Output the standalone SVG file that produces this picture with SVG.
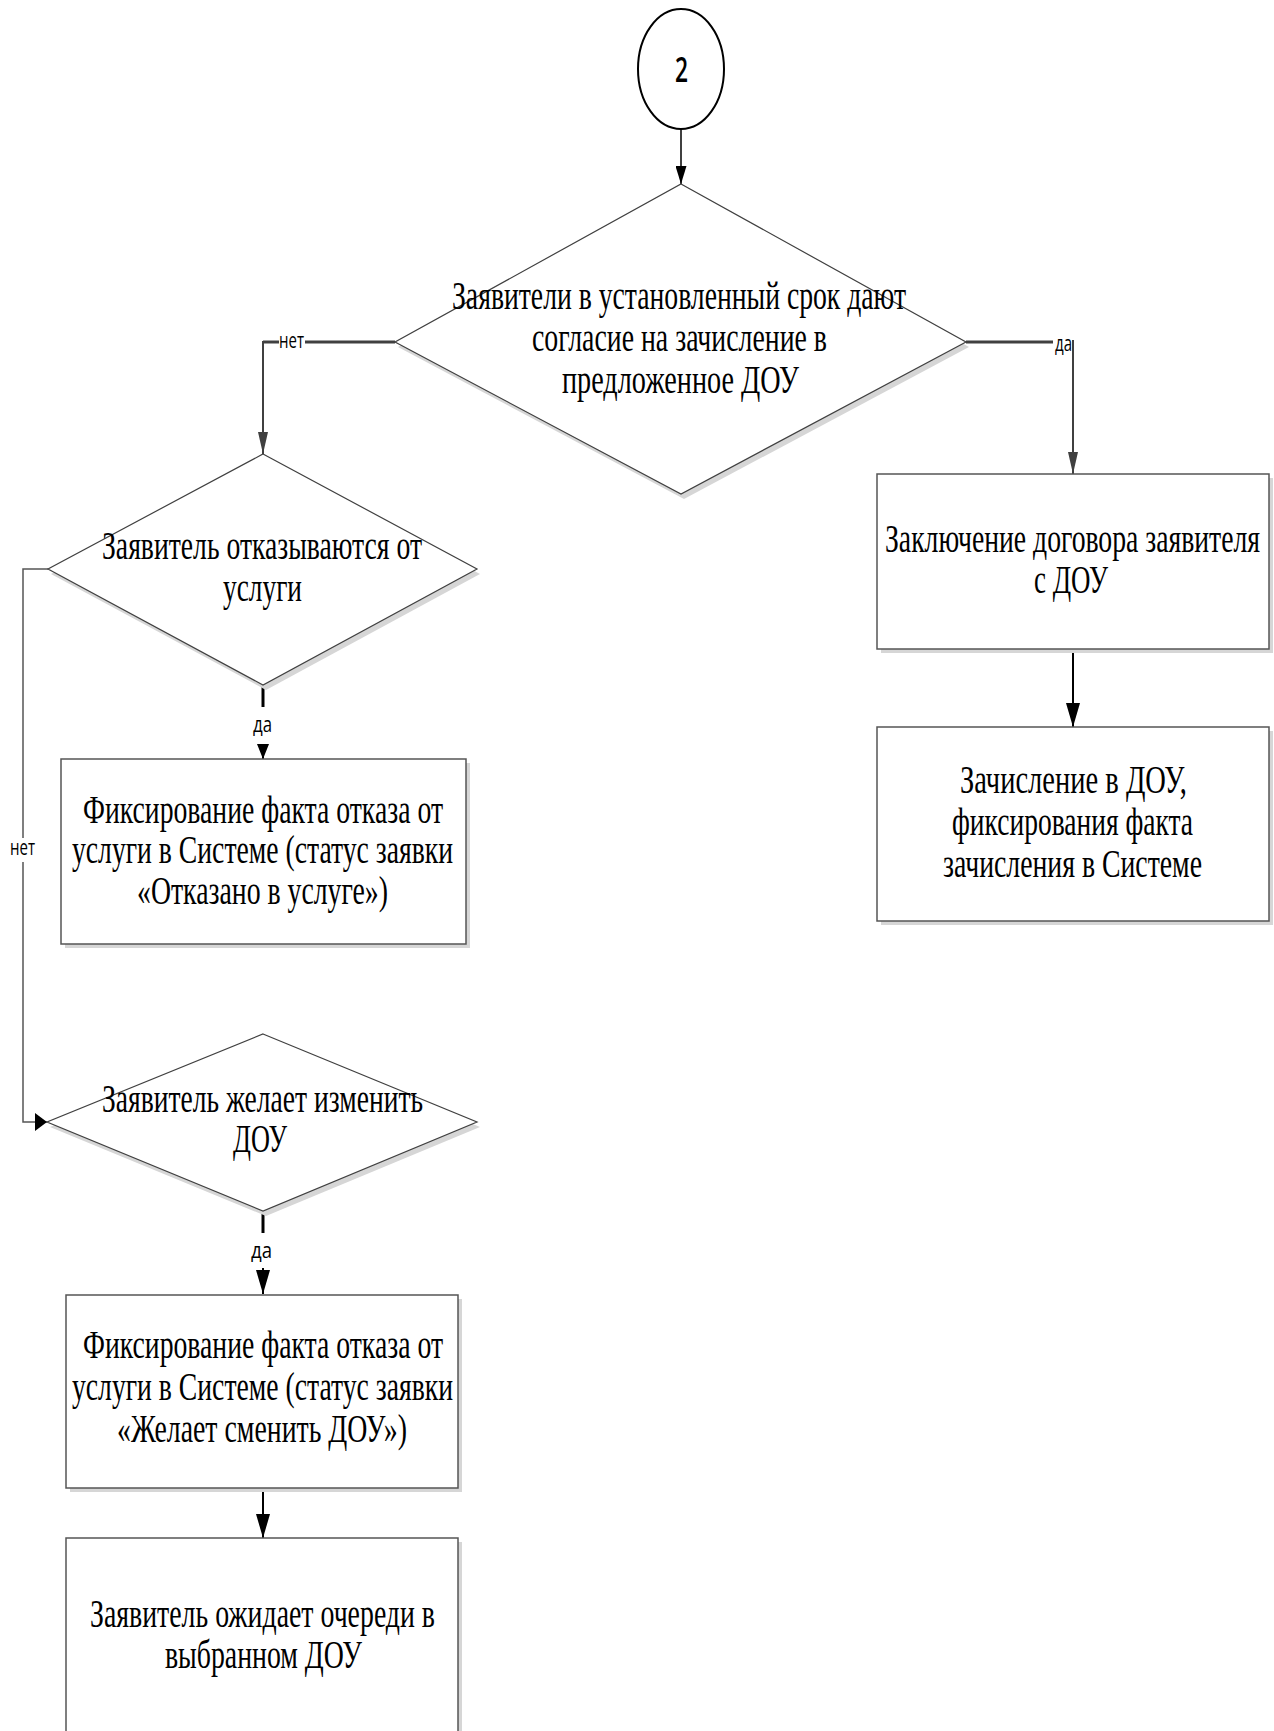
<svg xmlns="http://www.w3.org/2000/svg" width="1274" height="1731" viewBox="0 0 1274 1731">
<style>
.bg{fill:#ffffff}
.box{fill:#ffffff;stroke:#555555;stroke-width:1.5}
.shadow{fill:#d6d6d6;stroke:none}
.dia{fill:#ffffff;stroke:#404040;stroke-width:1.2}
.t{font-family:"Liberation Serif","Times New Roman",serif;font-size:40px;fill:#000000}
.lbl{font-family:"Open Sans","DejaVu Sans",sans-serif;font-size:21px;fill:#000000}
.thin{fill:none;stroke:#404040;stroke-width:2}
.thick{fill:none;stroke:#404040;stroke-width:3}
.blk{fill:none;stroke:#000000;stroke-width:2}
.blkthick{fill:none;stroke:#000000;stroke-width:3}
.gline{fill:none;stroke:#555555;stroke-width:1.5}
</style>
<defs>
<marker id="aCircle" markerUnits="userSpaceOnUse" markerWidth="18" markerHeight="11" refX="18" refY="5.5" orient="auto"><path d="M0,0 L18,5.5 L0,11 z" fill="#000"/></marker>
<marker id="aGray" markerUnits="userSpaceOnUse" markerWidth="22" markerHeight="10" refX="22" refY="5" orient="auto"><path d="M0,0 L22,5 L0,10 z" fill="#404040"/></marker>
<marker id="aBlk" markerUnits="userSpaceOnUse" markerWidth="24" markerHeight="14" refX="24" refY="7" orient="auto"><path d="M0,0 L24,7 L0,14 z" fill="#000"/></marker>
<marker id="aSmall" markerUnits="userSpaceOnUse" markerWidth="15" markerHeight="12" refX="15" refY="6" orient="auto"><path d="M0,0 L15,6 L0,12 z" fill="#000"/></marker>
<marker id="aLoop" markerUnits="userSpaceOnUse" markerWidth="12" markerHeight="18" refX="12" refY="9" orient="auto"><path d="M0,0 L12,9 L0,18 z" fill="#000"/></marker>
</defs>
<rect class="bg" x="0" y="0" width="1274" height="1731"/>

<g id="connectors">
<line class="blk" x1="681" y1="129" x2="681" y2="184" marker-end="url(#aCircle)" style="stroke-width:1.5"/>
<line class="thick" x1="395" y1="342" x2="305" y2="342"/>
<polyline class="thick" points="279,342 263,342"/>
<line class="thin" x1="263" y1="341" x2="263" y2="454" marker-end="url(#aGray)"/>
<line class="thick" x1="966" y1="342" x2="1053" y2="342"/>
<line class="thin" x1="1073" y1="340" x2="1073" y2="474" marker-end="url(#aGray)"/>
<line class="blk" x1="1073" y1="649" x2="1073" y2="727" marker-end="url(#aBlk)"/>
<line class="blkthick" x1="263" y1="685" x2="263" y2="707"/>
<line class="blk" x1="263" y1="744" x2="263" y2="759" marker-end="url(#aSmall)"/>
<polyline class="gline" points="48,569 23,569 23,838"/>
<polyline class="gline" points="23,862 23,1122 47,1122" marker-end="url(#aLoop)"/>
<line class="blkthick" x1="263" y1="1211" x2="263" y2="1233"/>
<line class="blk" x1="263" y1="1268" x2="263" y2="1294" marker-end="url(#aBlk)"/>
<line class="blk" x1="263" y1="1488" x2="263" y2="1538" marker-end="url(#aBlk)"/>
<text class="lbl" x="279" y="348" textLength="25" lengthAdjust="spacingAndGlyphs">нет</text>
<text class="lbl" x="1055" y="351" textLength="17" lengthAdjust="spacingAndGlyphs">да</text>
<text class="lbl" x="10" y="855" textLength="25" lengthAdjust="spacingAndGlyphs">нет</text>
<text class="lbl" x="253" y="732" textLength="19" lengthAdjust="spacingAndGlyphs">да</text>
<text class="lbl" x="251" y="1258" textLength="21" lengthAdjust="spacingAndGlyphs">да</text>
</g>

<g id="start">
<ellipse cx="681" cy="69" rx="43" ry="60" fill="#ffffff" stroke="#000000" stroke-width="2"/>
<text x="675" y="82" font-family="Open Sans, DejaVu Sans, sans-serif" font-size="35" font-weight="600" textLength="13" lengthAdjust="spacingAndGlyphs">2</text>
</g>

<g id="decision-consent">
<polygon class="shadow" points="684,189 969,347 684,499 398,347"/>
<polygon class="dia" points="681,184 966,342 681,494 395,342"/>
<text class="t" x="452" y="309" textLength="454" lengthAdjust="spacingAndGlyphs">Заявители в установленный срок дают</text>
<text class="t" x="532" y="351" textLength="295" lengthAdjust="spacingAndGlyphs">согласие на зачисление в</text>
<text class="t" x="562" y="393" textLength="237" lengthAdjust="spacingAndGlyphs">предложенное ДОУ</text>
</g>

<g id="decision-refuse">
<polygon class="shadow" points="266,459 480,574 266,690 51,574"/>
<polygon class="dia" points="263,454 477,569 263,685 48,569"/>
<text class="t" x="102" y="559" textLength="320" lengthAdjust="spacingAndGlyphs">Заявитель отказываются от</text>
<text class="t" x="223" y="601" textLength="79" lengthAdjust="spacingAndGlyphs">услуги</text>
</g>

<g id="box-refused">
<rect class="shadow" x="65" y="763" width="405" height="185"/>
<rect class="box" x="61" y="759" width="405" height="185"/>
<text class="t" x="83" y="823" textLength="360" lengthAdjust="spacingAndGlyphs">Фиксирование факта отказа от</text>
<text class="t" x="72" y="863" textLength="381" lengthAdjust="spacingAndGlyphs">услуги в Системе (статус заявки</text>
<text class="t" x="137" y="904" textLength="251" lengthAdjust="spacingAndGlyphs">«Отказано в услуге»)</text>
</g>

<g id="box-contract">
<rect class="shadow" x="881" y="478" width="392" height="175"/>
<rect class="box" x="877" y="474" width="392" height="175"/>
<text class="t" x="885" y="552" textLength="375" lengthAdjust="spacingAndGlyphs">Заключение договора заявителя</text>
<text class="t" x="1034" y="593" textLength="74" lengthAdjust="spacingAndGlyphs">с ДОУ</text>
</g>

<g id="box-enrolled">
<rect class="shadow" x="881" y="731" width="392" height="194"/>
<rect class="box" x="877" y="727" width="392" height="194"/>
<text class="t" x="960" y="793" textLength="227" lengthAdjust="spacingAndGlyphs">Зачисление в ДОУ,</text>
<text class="t" x="952" y="835" textLength="241" lengthAdjust="spacingAndGlyphs">фиксирования факта</text>
<text class="t" x="943" y="877" textLength="259" lengthAdjust="spacingAndGlyphs">зачисления в Системе</text>
</g>

<g id="decision-change">
<polygon class="shadow" points="266,1039 480,1127 266,1216 50,1127"/>
<polygon class="dia" points="263,1034 477,1122 263,1211 47,1122"/>
<text class="t" x="102" y="1112" textLength="321" lengthAdjust="spacingAndGlyphs">Заявитель желает изменить</text>
<text class="t" x="233" y="1152" textLength="54" lengthAdjust="spacingAndGlyphs">ДОУ</text>
</g>

<g id="box-change">
<rect class="shadow" x="70" y="1299" width="392" height="193"/>
<rect class="box" x="66" y="1295" width="392" height="193"/>
<text class="t" x="83" y="1358" textLength="360" lengthAdjust="spacingAndGlyphs">Фиксирование факта отказа от</text>
<text class="t" x="72" y="1400" textLength="381" lengthAdjust="spacingAndGlyphs">услуги в Системе (статус заявки</text>
<text class="t" x="117" y="1442" textLength="290" lengthAdjust="spacingAndGlyphs">«Желает сменить ДОУ»)</text>
</g>

<g id="box-wait">
<rect class="shadow" x="70" y="1542" width="392" height="220"/>
<rect class="box" x="66" y="1538" width="392" height="220"/>
<text class="t" x="90" y="1627" textLength="345" lengthAdjust="spacingAndGlyphs">Заявитель ожидает очереди в</text>
<text class="t" x="165" y="1668" textLength="197" lengthAdjust="spacingAndGlyphs">выбранном ДОУ</text>
</g>
</svg>
